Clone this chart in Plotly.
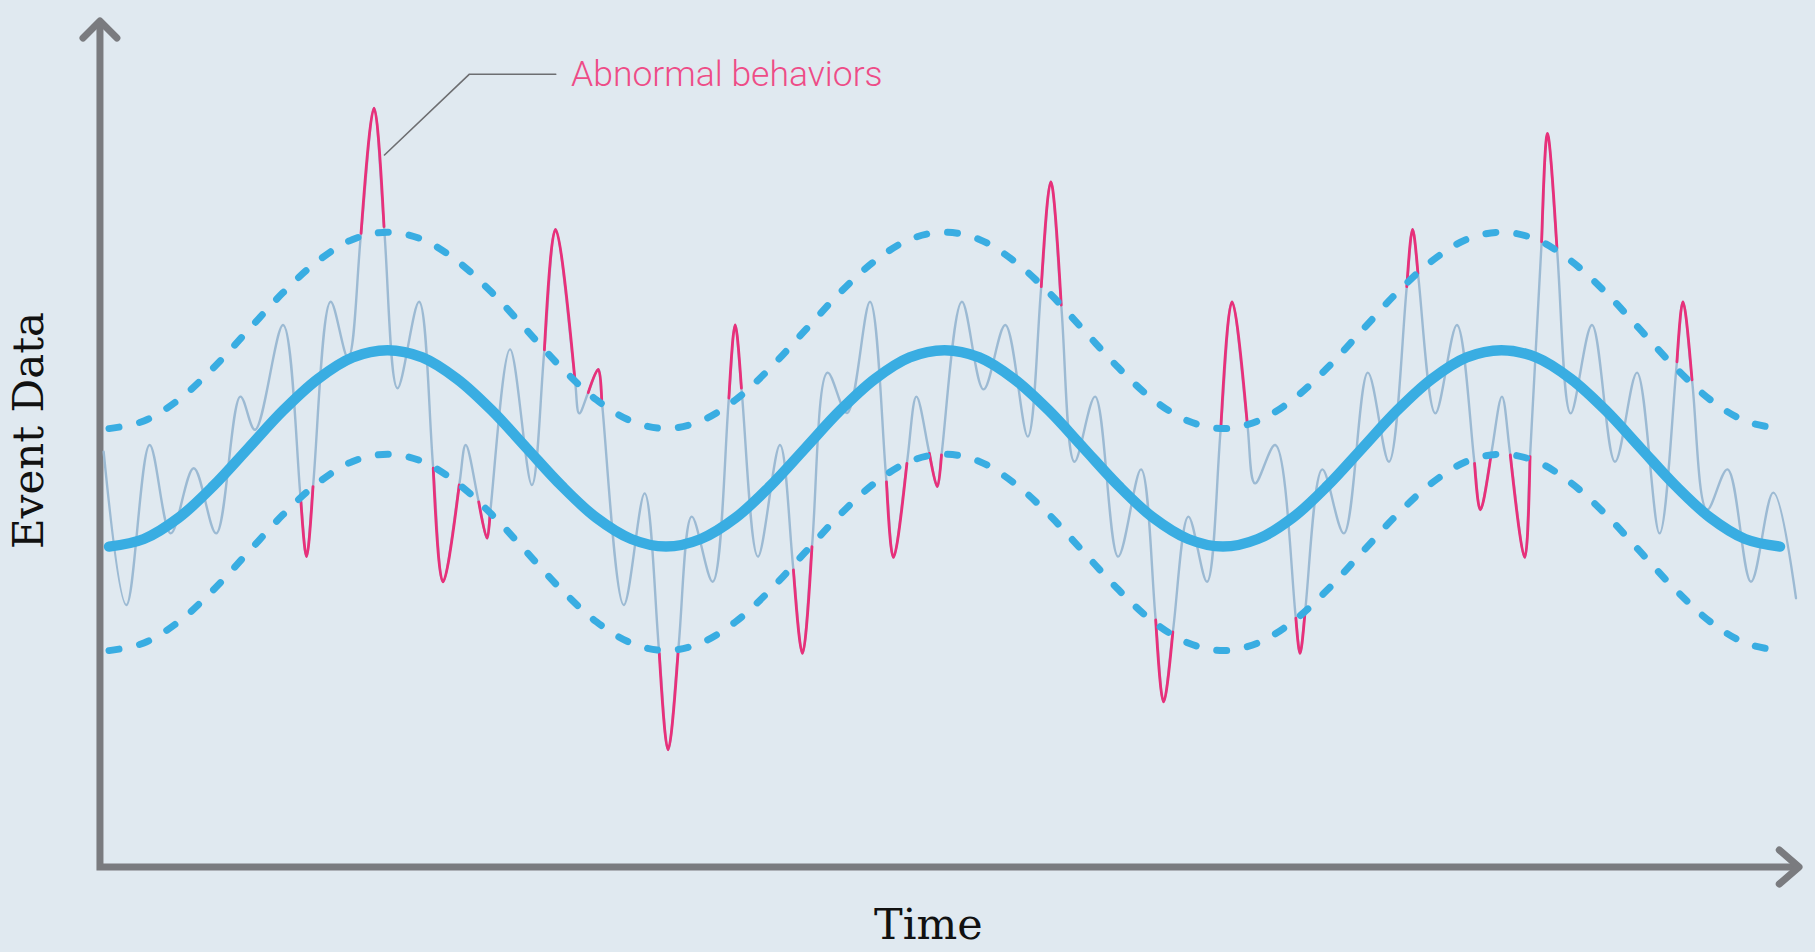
import plotly.graph_objects as go

# ---------------- data (time in hours, event count) ----------------
BASE_T = [0, 1.5, 3, 4.5, 6, 7.5, 9, 10.5, 12, 13.5, 15, 16.5, 18, 19.5, 21, 22.5,
          24, 25.5, 27, 28.5, 30, 31.5, 33, 34.5, 36, 37.5, 39, 40.5, 42, 43.5, 45, 46.5,
          48, 49.5, 51, 52.5, 54, 55.5, 57, 58.5, 60, 61.5, 63, 64.5, 66, 67.5, 69, 70.5, 72]
EXPECTED_V = [80.1, 82.0, 87.3, 95.3, 104.7, 114.1, 122.0, 127.4, 129.2, 127.4, 122.0, 114.1, 104.7, 95.3, 87.3, 82.0,
              80.1, 82.0, 87.3, 95.3, 104.7, 114.1, 122.0, 127.4, 129.2, 127.4, 122.0, 114.1, 104.7, 95.3, 87.3, 82.0,
              80.1, 82.0, 87.3, 95.3, 104.7, 114.1, 122.0, 127.4, 129.2, 127.4, 122.0, 114.1, 104.7, 95.3, 87.3, 82.0,
              80.1]
UPPER_V = [109.6, 111.5, 116.8, 124.8, 134.2, 143.6, 151.5, 156.9, 158.7, 156.9, 151.5, 143.6, 134.2, 124.8, 116.8, 111.5,
           109.6, 111.5, 116.8, 124.8, 134.2, 143.6, 151.5, 156.9, 158.7, 156.9, 151.5, 143.6, 134.2, 124.8, 116.8, 111.5,
           109.6, 111.5, 116.8, 124.8, 134.2, 143.6, 151.5, 156.9, 158.7, 156.9, 151.5, 143.6, 134.2, 124.8, 116.8, 111.5,
           109.6]
LOWER_V = [54.1, 56.0, 61.3, 69.3, 78.7, 88.1, 96.0, 101.4, 103.2, 101.4, 96.0, 88.1, 78.7, 69.3, 61.3, 56.0,
           54.1, 56.0, 61.3, 69.3, 78.7, 88.1, 96.0, 101.4, 103.2, 101.4, 96.0, 88.1, 78.7, 69.3, 61.3, 56.0,
           54.1, 56.0, 61.3, 69.3, 78.7, 88.1, 96.0, 101.4, 103.2, 101.4, 96.0, 88.1, 78.7, 69.3, 61.3, 56.0,
           54.1]

EVENT_T = [-0.23, 0.75, 1.75, 2.66, 3.65, 4.62, 5.66, 6.29, 7.50, 8.51, 9.55, 10.30, 11.42, 12.43,
           13.36, 14.39, 15.37, 16.29, 17.28, 18.22, 19.24, 20.26, 21.08, 22.18, 23.08, 24.09, 25.11,
           26.01, 26.98, 27.96, 28.91, 29.88, 30.96, 31.80, 32.79, 33.80, 34.79, 35.69, 36.75, 37.68,
           38.62, 39.59, 40.58, 41.60, 42.49, 43.48, 44.47, 45.44, 46.51, 47.31, 48.39, 49.38, 50.25,
           51.32, 52.28, 53.21, 54.24, 55.15, 56.17, 57.15, 58.08, 59.09, 60.02, 61.00, 61.98, 62.98,
           63.90, 64.89, 65.84, 66.81, 67.82, 68.86, 69.74, 70.75, 71.71, 72.69]
EVENT_V = [103.8, 65.5, 105.5, 83.4, 99.7, 83.4, 117.6, 109.3, 135.5, 77.6, 141.3, 127.3, 189.7, 119.7,
           141.3, 71.3, 105.5, 82.2, 129.4, 95.5, 159.4, 113.4, 124.4, 65.5, 93.4, 29.3, 87.6,
           71.3, 135.5, 77.6, 105.5, 53.4, 123.6, 113.5, 141.3, 77.4, 117.6, 95.1, 141.3, 119.4,
           135.5, 107.6, 171.3, 101.3, 117.6, 77.6, 99.4, 41.3, 87.6, 71.3, 141.3, 95.9, 105.5,
           53.4, 99.4, 83.4, 123.6, 101.3, 159.4, 113.4, 135.5, 89.3, 117.6, 77.4, 183.4, 113.4,
           135.5, 101.3, 123.6, 83.4, 141.3, 89.3, 99.4, 71.3, 93.6, 67.2]

# abnormal excursions outside the band: [band crossing in, extreme, band crossing out]
ANOMALY_T = [[8.27, 8.51, 8.79], [10.86, 11.42, 11.85], [13.97, 14.39, 15.09], [15.93, 16.29, 16.42],
             [18.76, 19.24, 20.07], [20.65, 21.08, 21.23], [23.71, 24.09, 24.53], [26.71, 26.98, 27.25],
             [29.49, 29.88, 30.29], [33.50, 33.80, 34.38], [35.35, 35.69, 35.87], [40.17, 40.58, 41.03],
             [45.10, 45.44, 45.84], [47.91, 48.39, 49.04], [51.14, 51.32, 51.53], [55.92, 56.17, 56.40],
             [58.84, 59.09, 59.56], [60.38, 61.00, 61.23], [61.73, 61.98, 62.39], [67.56, 67.82, 68.21]]
ANOMALY_V = [[91.3, 77.6, 95.1], [158.4, 189.7, 160.1], [99.7, 71.3, 95.5], [91.3, 82.2, 88.4],
             [129.3, 159.4, 122.2], [118.6, 124.4, 116.8], [53.4, 29.3, 54.4], [117.2, 135.5, 119.7],
             [74.3, 53.4, 80.1], [96.3, 77.4, 100.9], [103.4, 95.1, 103.0], [145.1, 171.3, 140.5],
             [61.8, 41.3, 58.8], [110.1, 141.3, 111.3], [62.2, 53.4, 63.4], [145.1, 159.4, 148.4],
             [100.9, 89.3, 103.4], [103.0, 77.4, 102.6], [156.3, 183.4, 154.7], [126.3, 141.3, 121.8]]

LABEL_ANOMALY = "Abnormal behaviors"
LABEL_X = "Time"
LABEL_Y = "Event Data"

# ---------------- layout / style ----------------
X_RANGE = [-4.697, 73.509]
Y_RANGE = [-21.25, 216.75]
AXIS_T = -0.39          # vertical axis position
AXIS_T_END = 72.82      # right arrow tip
AXIS_V_END = 211.5      # top arrow tip
LEADER_T = [11.87, 15.53, 19.25]
LEADER_V = [178.0, 198.2, 198.2]

BG = "#e0e9f0"
BLUE = "#39ade2"
GREY_LINE = "#9cbad3"
PINK = "#e8307a"
PINK_TEXT = "#ee4c87"
AXIS_COL = "#7a7b7f"

# merge band-crossing points into the observed series so both traces share them
pts = list(zip(EVENT_T, EVENT_V))
for seg_t, seg_v in zip(ANOMALY_T, ANOMALY_V):
    pts.append((seg_t[0], seg_v[0]))
    pts.append((seg_t[2], seg_v[2]))
pts.sort()
obs_t = [p[0] for p in pts]
obs_v = [p[1] for p in pts]

fig = go.Figure()

# axes (L shape + arrow heads)
fig.add_trace(go.Scatter(x=[AXIS_T, AXIS_T, AXIS_T_END], y=[AXIS_V_END, 0, 0], mode="lines",
                         line=dict(color=AXIS_COL, width=7), hoverinfo="skip"))
fig.add_trace(go.Scatter(x=[AXIS_T - 0.73, AXIS_T, AXIS_T + 0.73], y=[AXIS_V_END - 4.25, AXIS_V_END, AXIS_V_END - 4.25],
                         mode="lines", line=dict(color=AXIS_COL, width=7), hoverinfo="skip"))
fig.add_trace(go.Scatter(x=[AXIS_T_END - 0.85, AXIS_T_END, AXIS_T_END - 0.85], y=[4.25, 0, -4.25],
                         mode="lines", line=dict(color=AXIS_COL, width=7), hoverinfo="skip"))

# observed events
fig.add_trace(go.Scatter(x=obs_t, y=obs_v, mode="lines",
                         line=dict(color=GREY_LINE, width=2.4, shape="spline", smoothing=1.0),
                         hoverinfo="skip"))
for seg_t, seg_v in zip(ANOMALY_T, ANOMALY_V):
    fig.add_trace(go.Scatter(x=seg_t, y=seg_v, mode="lines",
                             line=dict(color=PINK, width=2.8, shape="spline", smoothing=1.0),
                             hoverinfo="skip"))

# bands and expected value
for band in (UPPER_V, LOWER_V):
    fig.add_trace(go.Scatter(x=BASE_T, y=band, mode="lines",
                             line=dict(color=BLUE, width=7, dash="10px,21px", shape="spline"),
                             hoverinfo="skip"))
fig.add_trace(go.Scatter(x=BASE_T, y=EXPECTED_V, mode="lines",
                         line=dict(color=BLUE, width=10.5, shape="spline"), hoverinfo="skip"))

# leader line
fig.add_trace(go.Scatter(x=LEADER_T, y=LEADER_V, mode="lines",
                         line=dict(color="#6d6e71", width=1.6), hoverinfo="skip"))

fig.add_annotation(x=19.83, y=198.3, text=LABEL_ANOMALY, showarrow=False, xanchor="left", yanchor="middle",
                   font=dict(family="Roboto", size=35.5, color=PINK_TEXT, weight=300))
fig.add_annotation(x=-3.49, y=109, text=LABEL_Y, showarrow=False, textangle=-90,
                   xanchor="center", yanchor="middle",
                   font=dict(family="DejaVu Serif", size=42, color="#111111"))
fig.add_annotation(x=35.33, y=-14.2, text=LABEL_X, showarrow=False, xanchor="center", yanchor="middle",
                   font=dict(family="DejaVu Serif", size=43, color="#111111"))

fig.update_layout(
    width=1815, height=952, margin=dict(l=0, r=0, t=0, b=0),
    paper_bgcolor=BG, plot_bgcolor=BG, showlegend=False,
    xaxis=dict(range=X_RANGE, visible=False, fixedrange=True),
    yaxis=dict(range=Y_RANGE, visible=False, fixedrange=True),
    hovermode=False,
)

post = """
var st = document.createElement('style');
st.textContent = 'html,body{margin:0 !important;padding:0;overflow:hidden;}' +
  'path.js-line{stroke-linecap:round !important;stroke-linejoin:round !important;}' +
  '.scatterlayer .trace:first-child path.js-line{stroke-linecap:butt !important;stroke-linejoin:miter !important;}';
document.head.appendChild(st);
"""

fig.write_html("out.html", config={"displayModeBar": False, "staticPlot": True}, post_script=post)
